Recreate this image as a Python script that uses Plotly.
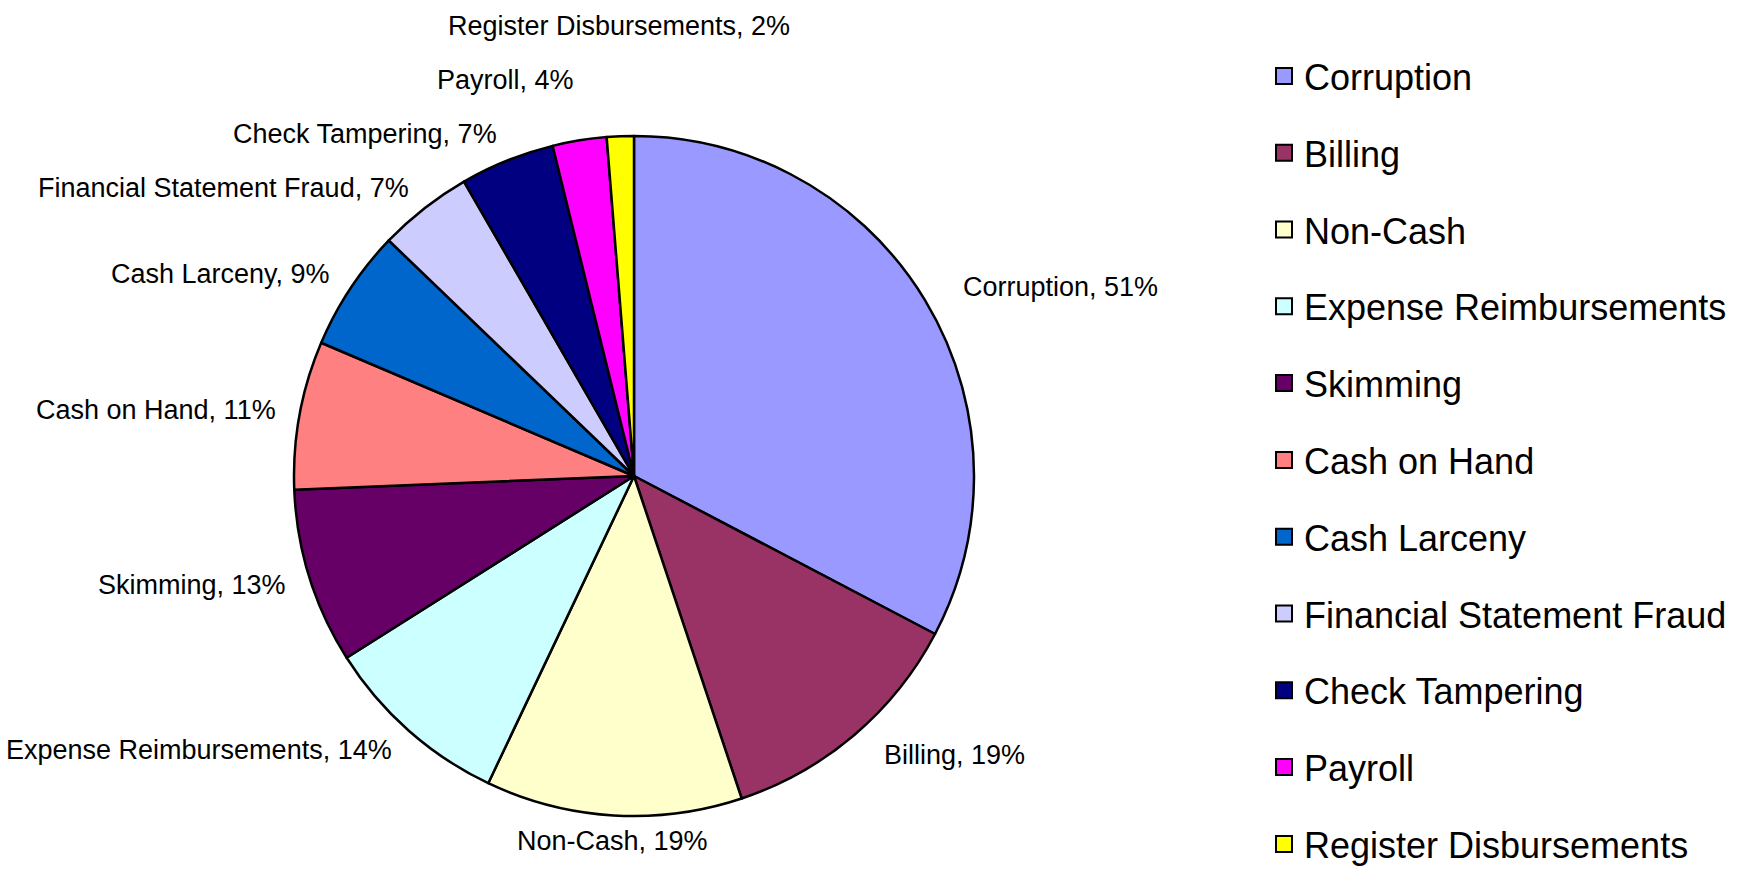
import math
import plotly.graph_objects as go

# ---- data ----
categories = ["Corruption", "Billing", "Non-Cash", "Expense Reimbursements", "Skimming",
              "Cash on Hand", "Cash Larceny", "Financial Statement Fraud", "Check Tampering",
              "Payroll", "Register Disbursements"]
values = [51, 19, 19, 14, 13, 11, 9, 7, 7, 4, 2]
colors = ["#9999FF", "#993366", "#FFFFCC", "#CCFFFF", "#660066", "#FF8080",
          "#0066CC", "#CCCCFF", "#000080", "#FF00FF", "#FFFF00"]

# ---- layout geometry (pixels) ----
W, H = 1753, 874
CX, CY, R = 634, 476, 340
FONT = "Liberation Sans, Arial, Helvetica, sans-serif"
LABEL_RY = 366          # vertical label distance from centre
LABEL_RX_LEFT = 362     # horizontal label distance, left side
LABEL_RX_RIGHT = 382    # horizontal label distance, right side
GAP = 54                # minimal vertical spacing of crowded top labels

dom_x = [(CX - R) / W, (CX + R) / W]
dom_y = [1 - (CY + R) / H, 1 - (CY - R) / H]

fig = go.Figure()
fig.add_trace(go.Pie(
    labels=categories, values=values, sort=False, direction="clockwise", rotation=0,
    marker=dict(colors=colors, line=dict(color="black", width=2.5)),
    textinfo="none", showlegend=False, domain=dict(x=dom_x, y=dom_y),
    hovertemplate="%{label}, %{value}%<extra></extra>",
))

# ---- data labels: placed outside at the slice mid-angle, de-overlapped at the top ----
total = sum(values)
cum = 0
pts = []
for cat, v in zip(categories, values):
    mid = (cum + v / 2) / total * 2 * math.pi
    cum += v
    s, c = math.sin(mid), math.cos(mid)
    x = CX + (LABEL_RX_RIGHT if s > 0 else LABEL_RX_LEFT) * s
    y = CY - LABEL_RY * c
    xa = "left" if s > 0.1 else ("right" if s < -0.1 else "center")
    pts.append([cat, v, x, y, xa, mid])

prev = None
for p in pts:
    if p[5] > 1.5 * math.pi:  # upper-left quadrant
        if prev is not None and p[3] > prev - GAP:
            p[3] = prev - GAP
        prev = p[3]

for cat, v, x, y, xa, mid in pts:
    fig.add_annotation(text=f"{cat}, {v}%", x=x / W, y=1 - y / H, xref="paper", yref="paper",
                       xanchor=xa, yanchor="middle", showarrow=False,
                       font=dict(family=FONT, size=27, color="black"))

# ---- legend entries ----
for cat, col in zip(categories, colors):
    fig.add_trace(go.Scatter(
        x=[None], y=[None], mode="markers", name=cat, legendgroup=cat,
        marker=dict(symbol="square", size=16, color=col, line=dict(color="black", width=2)),
        hoverinfo="skip",
    ))

fig.update_layout(
    width=W, height=H, autosize=False,
    margin=dict(l=0, r=0, t=0, b=0),
    paper_bgcolor="white", plot_bgcolor="white",
    xaxis=dict(visible=False), yaxis=dict(visible=False),
    legend=dict(x=1264 / W, xanchor="left", y=0, yanchor="bottom",
                font=dict(family=FONT, size=36, color="black"),
                tracegroupgap=27.0, bgcolor="rgba(0,0,0,0)", itemclick=False, itemdoubleclick=False),
    font=dict(family=FONT),
)

fig.write_html("out.html", config={"displayModeBar": False})
